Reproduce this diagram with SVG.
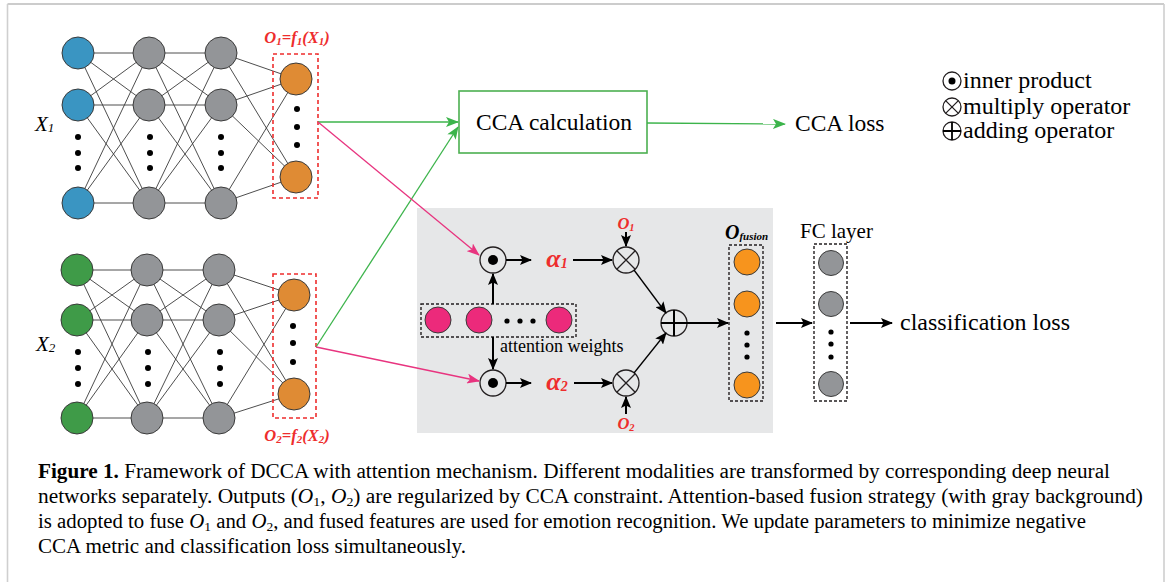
<svg xmlns="http://www.w3.org/2000/svg" width="1170" height="582" viewBox="0 0 1170 582">
<style>
.edge{stroke:#3a3a3a;stroke-width:0.9;fill:none}
.neuron{stroke:#3a3a3a;stroke-width:1}
.blue{fill:#3a95c2}
.green{fill:#3f9b48}
.gray{fill:#939598}
.orange{fill:#df8b34}
.fuse{fill:#f7941d}
.pink{fill:#ec2a7b}
.dot{fill:#000}
.redbox{fill:none;stroke:#ee2d2d;stroke-width:1.6;stroke-dasharray:4 3}
.blackbox{fill:none;stroke:#231f20;stroke-width:1.4;stroke-dasharray:3 2}
.op{fill:none;stroke:#231f20;stroke-width:1.3}
.arr{stroke:#000;stroke-width:2;fill:none;marker-end:url(#ab)}
.arrthin{stroke:#000;stroke-width:1.3;fill:none;marker-end:url(#ab)}
.garr{stroke:#3cb44b;stroke-width:1.3;fill:none;marker-end:url(#ag)}
.parr{stroke:#e8347f;stroke-width:1.3;fill:none;marker-end:url(#ap)}
.serif{font-family:"Liberation Serif","Times New Roman",serif;fill:#000}
.redlab{font-family:"Liberation Serif","Times New Roman",serif;font-weight:bold;font-style:italic;fill:#ee2d2d}
</style>
<defs>
<marker id="ab" markerUnits="userSpaceOnUse" markerWidth="12" markerHeight="10" refX="11" refY="5" orient="auto"><path d="M0,0 L12,5 L0,10 L2.5,5 z" fill="#000"/></marker>
<marker id="ag" markerUnits="userSpaceOnUse" markerWidth="13" markerHeight="10" refX="12" refY="5" orient="auto"><path d="M0,0 L13,5 L0,10 L3,5 z" fill="#3cb44b"/></marker>
<marker id="ap" markerUnits="userSpaceOnUse" markerWidth="13" markerHeight="10" refX="12" refY="5" orient="auto"><path d="M0,0 L13,5 L0,10 L3,5 z" fill="#e8347f"/></marker>
</defs>
<rect x="0" y="0" width="1170" height="582" fill="#fff"/>
<line x1="7.5" y1="4" x2="1164" y2="4" stroke="#9a9a9a" stroke-width="1.2"/>
<line x1="7.5" y1="4" x2="7.5" y2="582" stroke="#cfcfcf" stroke-width="1.6"/>
<line x1="1164" y1="4" x2="1164" y2="582" stroke="#cfcfcf" stroke-width="1.6"/>

<!-- gray attention background -->
<rect id="attention-bg" x="417" y="208" width="356" height="225" fill="#e6e7e8"/>

<!-- network edges -->
<g id="net-edges" class="edge">
<path d="M78,53L149,53M78,53L149,105M78,53L149,203M78,105L149,53M78,105L149,105M78,105L149,203M78,203L149,53M78,203L149,105M78,203L149,203"/>
<path d="M149,53L221,53M149,53L221,105M149,53L221,203M149,105L221,53M149,105L221,105M149,105L221,203M149,203L221,53M149,203L221,105M149,203L221,203"/>
<path d="M221,53L296,79M221,53L296,177M221,105L296,79M221,105L296,177M221,203L296,79M221,203L296,177"/>
<path d="M77,270L147,270M77,270L147,320M77,270L147,418M77,320L147,270M77,320L147,320M77,320L147,418M77,418L147,270M77,418L147,320M77,418L147,418"/>
<path d="M147,270L219,270M147,270L219,320M147,270L219,418M147,320L219,270M147,320L219,320M147,320L219,418M147,418L219,270M147,418L219,320M147,418L219,418"/>
<path d="M219,270L294,295M219,270L294,394M219,320L294,295M219,320L294,394M219,418L294,295M219,418L294,394"/>
</g>

<!-- top network -->
<g id="net1-input" class="neuron">
<circle class="blue" cx="78" cy="53" r="16"/><circle class="blue" cx="78" cy="105" r="16"/><circle class="blue" cx="78" cy="203" r="16"/>
<circle class="dot" cx="78" cy="137" r="3" stroke="none"/><circle class="dot" cx="78" cy="153" r="3" stroke="none"/><circle class="dot" cx="78" cy="168" r="3" stroke="none"/>
</g>
<g id="net1-hidden1" class="neuron">
<circle class="gray" cx="149" cy="53" r="16"/><circle class="gray" cx="149" cy="105" r="16"/><circle class="gray" cx="149" cy="203" r="16"/>
<circle class="dot" cx="150" cy="137" r="3" stroke="none"/><circle class="dot" cx="150" cy="153" r="3" stroke="none"/><circle class="dot" cx="150" cy="168" r="3" stroke="none"/>
</g>
<g id="net1-hidden2" class="neuron">
<circle class="gray" cx="221" cy="53" r="16"/><circle class="gray" cx="221" cy="105" r="16"/><circle class="gray" cx="221" cy="203" r="16"/>
<circle class="dot" cx="221" cy="137" r="3" stroke="none"/><circle class="dot" cx="221" cy="153" r="3" stroke="none"/><circle class="dot" cx="221" cy="168" r="3" stroke="none"/>
</g>
<g id="net1-output">
<rect class="redbox" x="273" y="54" width="45" height="144"/>
<circle class="orange neuron" cx="296" cy="79" r="16"/><circle class="orange neuron" cx="296" cy="177" r="16"/>
<circle class="dot" cx="297" cy="109" r="3"/><circle class="dot" cx="297" cy="127" r="3"/><circle class="dot" cx="297" cy="145" r="3"/>
<text class="redlab" x="297" y="43" font-size="16.5" text-anchor="middle">O<tspan font-size="11" dy="2">1</tspan><tspan dy="-2">=f</tspan><tspan font-size="11" dy="2">1</tspan><tspan dy="-2">(X</tspan><tspan font-size="11" dy="2">1</tspan><tspan dy="-2">)</tspan></text>
</g>
<g id="label-x1"><text class="serif" x="35" y="131" font-size="21" font-style="italic">X<tspan font-size="13" dy="1">1</tspan></text></g>

<!-- bottom network -->
<g id="net2-input" class="neuron">
<circle class="green" cx="77" cy="270" r="16"/><circle class="green" cx="77" cy="320" r="16"/><circle class="green" cx="77" cy="418" r="16"/>
<circle class="dot" cx="78" cy="352" r="3" stroke="none"/><circle class="dot" cx="78" cy="368" r="3" stroke="none"/><circle class="dot" cx="78" cy="384" r="3" stroke="none"/>
</g>
<g id="net2-hidden1" class="neuron">
<circle class="gray" cx="147" cy="270" r="16"/><circle class="gray" cx="147" cy="320" r="16"/><circle class="gray" cx="147" cy="418" r="16"/>
<circle class="dot" cx="148" cy="352" r="3" stroke="none"/><circle class="dot" cx="148" cy="368" r="3" stroke="none"/><circle class="dot" cx="148" cy="384" r="3" stroke="none"/>
</g>
<g id="net2-hidden2" class="neuron">
<circle class="gray" cx="219" cy="270" r="16"/><circle class="gray" cx="219" cy="320" r="16"/><circle class="gray" cx="219" cy="418" r="16"/>
<circle class="dot" cx="220" cy="352" r="3" stroke="none"/><circle class="dot" cx="220" cy="368" r="3" stroke="none"/><circle class="dot" cx="220" cy="384" r="3" stroke="none"/>
</g>
<g id="net2-output">
<rect class="redbox" x="273" y="274" width="43" height="144"/>
<circle class="orange neuron" cx="294" cy="295" r="16"/><circle class="orange neuron" cx="294" cy="394" r="16"/>
<circle class="dot" cx="293" cy="326" r="3"/><circle class="dot" cx="293" cy="343" r="3"/><circle class="dot" cx="293" cy="362" r="3"/>
<text class="redlab" x="297" y="441" font-size="16.5" text-anchor="middle">O<tspan font-size="11" dy="2">2</tspan><tspan dy="-2">=f</tspan><tspan font-size="11" dy="2">2</tspan><tspan dy="-2">(X</tspan><tspan font-size="11" dy="2">2</tspan><tspan dy="-2">)</tspan></text>
</g>
<g id="label-x2"><text class="serif" x="36" y="351" font-size="21" font-style="italic">X<tspan font-size="13" dy="1">2</tspan></text></g>

<!-- CCA -->
<g id="cca-calc">
<rect x="459" y="91" width="188" height="62" fill="#fff" stroke="#4cb050" stroke-width="1.6"/>
<text class="serif" x="554" y="130" font-size="23.5" text-anchor="middle">CCA calculation</text>
</g>
<g id="cca-loss"><text class="serif" x="795" y="131" font-size="23.5">CCA loss</text></g>

<!-- legend -->
<g id="legend">
<circle class="op" cx="952" cy="81" r="9"/><circle cx="952" cy="81" r="3.5" fill="#000"/>
<text class="serif" x="963" y="88" font-size="24">inner product</text>
<circle class="op" cx="952" cy="107" r="9"/><path class="op" d="M945.6,100.6L958.4,113.4M958.4,100.6L945.6,113.4"/>
<text class="serif" x="963" y="114" font-size="24">multiply operator</text>
<circle class="op" cx="952" cy="131" r="9"/><path d="M943,131H961M952,122V140" stroke="#000" stroke-width="1.8"/>
<text class="serif" x="963" y="138" font-size="24">adding operator</text>
</g>

<!-- attention weights -->
<g id="attention-weights">
<rect class="blackbox" x="421" y="304" width="155" height="33"/>
<circle class="pink neuron" cx="438" cy="320" r="13"/><circle class="pink neuron" cx="479" cy="320" r="13"/><circle class="pink neuron" cx="559" cy="320" r="13"/>
<circle class="dot" cx="507" cy="321" r="2.6"/><circle class="dot" cx="520" cy="321" r="2.6"/><circle class="dot" cx="533" cy="321" r="2.6"/>
<text class="serif" x="500" y="352" font-size="18">attention weights</text>
</g>
<g id="inner1"><circle class="op" cx="493" cy="260" r="13" fill="#fff"/><circle cx="493" cy="260" r="5" fill="#000"/></g>
<g id="inner2"><circle class="op" cx="493" cy="383" r="13" fill="#fff"/><circle cx="493" cy="383" r="5" fill="#000"/></g>
<g id="alpha1"><text class="redlab" x="557" y="267" font-size="26" text-anchor="middle">α<tspan font-size="14" dy="1">1</tspan></text></g>
<g id="alpha2"><text class="redlab" x="557" y="390" font-size="26" text-anchor="middle">α<tspan font-size="14" dy="1">2</tspan></text></g>
<g id="mult1"><circle class="op" cx="626" cy="260" r="13"/><path class="op" d="M616.8,250.8L635.2,269.2M635.2,250.8L616.8,269.2"/></g>
<g id="mult2"><circle class="op" cx="626" cy="383" r="13"/><path class="op" d="M616.8,373.8L635.2,392.2M635.2,373.8L616.8,392.2"/></g>
<g id="o1-label"><text class="redlab" x="626" y="229" font-size="16.5" text-anchor="middle">O<tspan font-size="10.5" dy="1.5">1</tspan></text></g>
<g id="o2-label"><text class="redlab" x="626" y="429" font-size="16.5" text-anchor="middle">O<tspan font-size="10.5" dy="1.5">2</tspan></text></g>
<g id="add"><circle class="op" cx="674" cy="323" r="13"/><path d="M661,323H687M674,310V336" stroke="#000" stroke-width="2"/></g>
<g id="o-fusion">
<rect class="blackbox" x="729" y="245" width="34" height="156"/>
<circle class="fuse neuron" cx="747" cy="262" r="13"/><circle class="fuse neuron" cx="747" cy="304" r="13"/><circle class="fuse neuron" cx="747" cy="385" r="13"/>
<circle class="dot" cx="747" cy="333" r="2.6"/><circle class="dot" cx="747" cy="345" r="2.6"/><circle class="dot" cx="747" cy="357" r="2.6"/>
<text class="serif" x="725" y="239" font-size="20" font-weight="bold" font-style="italic">O<tspan font-size="11" dy="1">fusion</tspan></text>
</g>
<g id="fc-layer">
<rect class="blackbox" x="814" y="244" width="33" height="157"/>
<circle class="gray neuron" cx="831" cy="263" r="12.5"/><circle class="gray neuron" cx="831" cy="304" r="12.5"/><circle class="gray neuron" cx="831" cy="384" r="12.5"/>
<circle class="dot" cx="831" cy="332" r="2.6"/><circle class="dot" cx="831" cy="344" r="2.6"/><circle class="dot" cx="831" cy="357" r="2.6"/>
<text class="serif" x="800" y="238" font-size="21">FC layer</text>
</g>
<g id="classification-loss"><text class="serif" x="900" y="330" font-size="24">classification loss</text></g>

<!-- connectors -->
<g id="connectors">
<path class="garr" d="M318,122L458,122"/>
<path class="garr" d="M316,347L458,127"/>
<path class="garr" d="M647,123L785,124"/>
<path class="parr" d="M318,122L479,255"/>
<path class="parr" d="M316,347L479,381"/>
<path class="arr" d="M493,304L493,274"/>
<path class="arr" d="M493,337L493,369"/>
<path class="arr" d="M506,260L531,260"/>
<path class="arr" d="M506,383L531,383"/>
<path class="arr" d="M573,260L612,260"/>
<path class="arr" d="M574,383L612,383"/>
<path class="arr" d="M626,232L626,246"/>
<path class="arr" d="M626,414L626,397"/>
<path class="arrthin" d="M634,270L666,313"/>
<path class="arrthin" d="M634,373L666,333"/>
<path class="arr" d="M687,323L728,323"/>
<path class="arr" d="M776,323L812,323"/>
<path class="arr" d="M850,323L892,323"/>
</g>

<!-- caption -->
<g id="caption" class="serif" font-size="20">
<text x="38" y="478" textLength="1072" lengthAdjust="spacingAndGlyphs"><tspan font-weight="bold">Figure 1.</tspan> Framework of DCCA with attention mechanism. Different modalities are transformed by corresponding deep neural</text>
<text x="38" y="503" textLength="1105" lengthAdjust="spacingAndGlyphs">networks separately. Outputs (<tspan font-style="italic">O</tspan><tspan font-size="13" dy="3">1</tspan><tspan dy="-3">, </tspan><tspan font-style="italic">O</tspan><tspan font-size="13" dy="3">2</tspan><tspan dy="-3">) are regularized by CCA constraint. Attention-based fusion strategy (with gray background)</tspan></text>
<text x="38" y="528" textLength="1048" lengthAdjust="spacingAndGlyphs">is adopted to fuse <tspan font-style="italic">O</tspan><tspan font-size="13" dy="3">1</tspan><tspan dy="-3"> and </tspan><tspan font-style="italic">O</tspan><tspan font-size="13" dy="3">2</tspan><tspan dy="-3">, and fused features are used for emotion recognition. We update parameters to minimize negative</tspan></text>
<text x="38" y="553" textLength="428" lengthAdjust="spacingAndGlyphs">CCA metric and classification loss simultaneously.</text>
</g>
</svg>
